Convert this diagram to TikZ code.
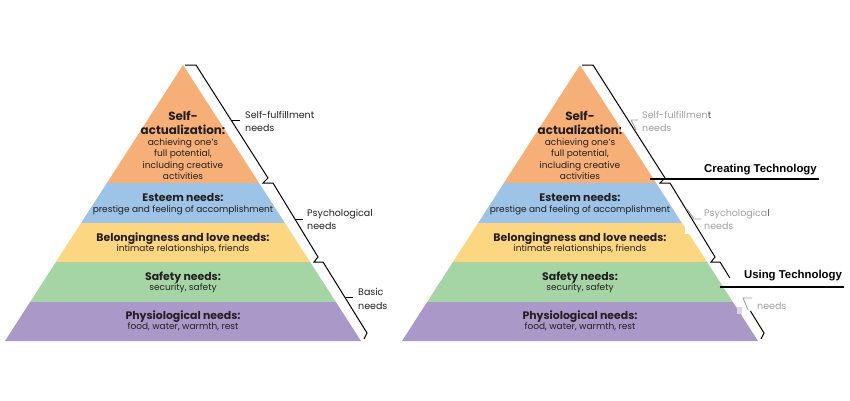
\documentclass[tikz,border=0pt]{standalone}
\usepackage{fontspec}
\setmainfont{Poppins}
\newfontfamily\techfont{Liberation Sans}
\definecolor{corange}{HTML}{F7AF78}
\definecolor{cblue}{HTML}{9DC3E6}
\definecolor{cyellow}{HTML}{FDD682}
\definecolor{cgreen}{HTML}{A5D5A5}
\definecolor{cpurple}{HTML}{AA98C9}
\definecolor{txt}{HTML}{231F20}
\definecolor{greylbl}{HTML}{A0A0A0}
\definecolor{greydark}{HTML}{505050}
\definecolor{patch}{HTML}{DCD3EA}
\tikzset{
  tb/.style={font=\fontsize{10.9}{12}\selectfont\bfseries, text=txt, inner sep=0pt, anchor=base},
  tbig/.style={tb, font=\fontsize{11.9}{13}\selectfont\bfseries},
  tr/.style={font=\fontsize{9}{11}\selectfont, text=txt, inner sep=0pt, anchor=base},
  lbl/.style={font=\fontsize{9.5}{11}\selectfont, text=txt, inner sep=0pt, anchor=base west},
  glbl/.style={lbl, text=greylbl},
  brk/.style={line width=1pt, black, line join=miter},
  gbrk/.style={line width=0.9pt, greylbl},
  tech/.style={font=\techfont\fontsize{11.4}{13}\selectfont\bfseries, text=black, inner sep=0pt, anchor=base},
  uline/.style={line width=2pt, black},
}
\newcommand\mypyr[1]{%
  \fill[corange] (0,65) -- (76.1,183) -- (-76.1,183) -- cycle;
  \fill[cblue] (-76.1,183) -- (76.1,183) -- (101.9,223) -- (-101.9,223) -- cycle;
  \fill[cyellow] (-101.9,223) -- (101.9,223) -- (127.1,262) -- (-127.1,262) -- cycle;
  \fill[cgreen] (-127.1,262) -- (127.1,262) -- (152.9,302) -- (-152.9,302) -- cycle;
  \fill[cpurple] (-152.9,302) -- (152.9,302) -- (178,341) -- (-178,341) -- cycle;
  \node[tbig] (#1a1) at (0,120.5) {Self-};
  \node[tbig] (#1a2) at (0,134) {actualization:};
  \node[tr] (#1a3) at (0,145) {achieving one’s};
  \node[tr] (#1a4) at (0,156.5) {full potential,};
  \node[tr] (#1a5) at (0,168) {including creative};
  \node[tr] (#1a6) at (0,179.5) {activities};
  \node[tb] (#1b1) at (0,201.5) {Esteem needs:};
  \node[tr] (#1b2) at (0,212.5) {prestige and feeling of accomplishment};
  \node[tb] (#1c1) at (0,241) {Belongingness and love needs:};
  \node[tr] (#1c2) at (0,251.5) {intimate relationships, friends};
  \node[tb] (#1d1) at (0,280.5) {Safety needs:};
  \node[tr] (#1d2) at (0,290.5) {security, safety};
  \node[tb] (#1e1) at (0,319.5) {Physiological needs:};
  \node[tr] (#1e2) at (0,329.5) {food, water, warmth, rest};
}
\begin{document}
\begin{tikzpicture}[x=1pt,y=-1pt]
\useasboundingbox (0,0) rectangle (850,400);
\fill[white] (0,0) rectangle (850,400);
% left pyramid
\begin{scope}[xshift=183pt]
  \mypyr{L}
  \draw[brk] (2,65) -- (13,65) -- (85,178) -- (80,183) -- (90,183) -- (135,257) -- (131,262) -- (140,262) -- (184,333) -- (181,339);
  \draw[brk] (48,120) -- (57,120);
  \draw[brk] (112,219) -- (120,219);
  \draw[brk] (162,297) -- (170,297);
  \node[lbl] (Lsf1) at (62,118) {Self-fulfillment};
  \node[lbl] (Lsf2) at (62,131.5) {needs};
  \node[lbl] (Lps1) at (124,216) {Psychological};
  \node[lbl] (Lps2) at (124,229.5) {needs};
  \node[lbl] (Lba1) at (175,295) {Basic};
  \node[lbl] (Lba2) at (175,309) {needs};
\end{scope}
% right pyramid
\begin{scope}[xshift=580pt]
  \mypyr{R}
  \fill[white] (40.8,126) rectangle (44,132);
  \fill[white] (104.5,228) rectangle (109,234);
  \fill[patch] (157,307) rectangle (162,314);
  \draw[brk] (2,65) -- (13,65) -- (85,178) -- (80,183) -- (90,183) -- (135,257) -- (131,262) -- (140,262) -- (149.9,278);
  \draw[brk] (170.4,311) -- (184,333) -- (181,339);
  \draw[gbrk] (58,120) -- (51,120) -- (56,130);
  \draw[gbrk] (107,209) -- (114,219) -- (121,219);
  \draw[gbrk] (172,298) -- (163,298) -- (168,310);
  \node[glbl] (Rsf1) at (62,118) {Self-fulfillmen\textcolor{greydark}{t}};
  \node[glbl] (Rsf2) at (62,131.5) {needs};
  \node[glbl] (Rps1) at (124,216) {Psychologica\textcolor{greydark}{l}};
  \node[glbl] (Rps2) at (124,229.5) {needs};
  \node[glbl] (Rba2) at (177,309) {needs};
\end{scope}
\node[tech] (create) at (760.5,172) {Creating Technology};
\node[tech] (using) at (793,278) {Using Technology};
\coordinate (c1) at (650,179);
\coordinate (c2) at (819,179);
\coordinate (u1) at (720,287);
\coordinate (u2) at (844,287);
\draw[uline] (c1) -- (c2);
\draw[uline] (u1) -- (u2);
\end{tikzpicture}
\end{document}
